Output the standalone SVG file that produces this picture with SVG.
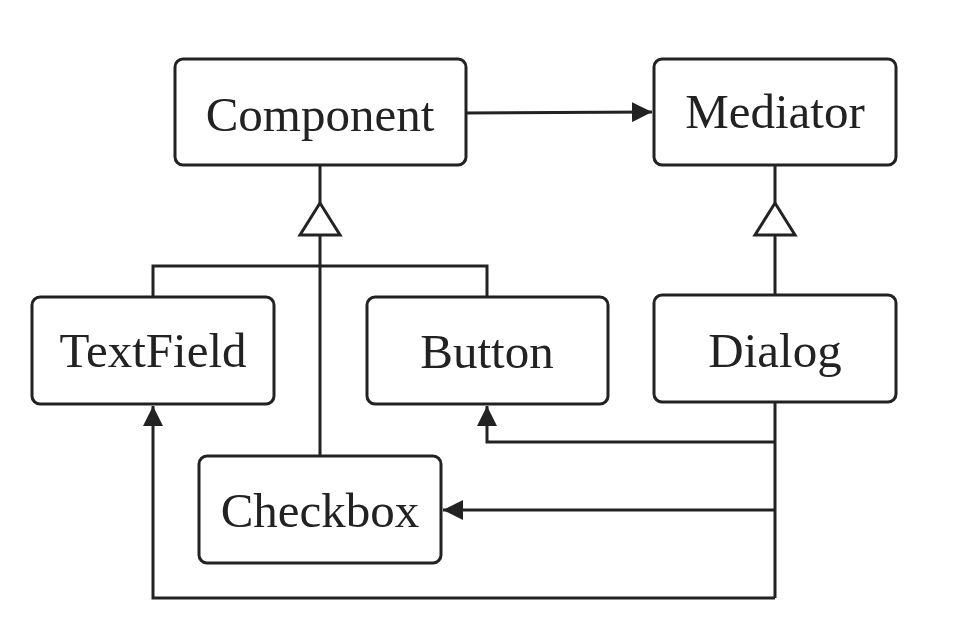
<svg xmlns="http://www.w3.org/2000/svg" width="969" height="643" viewBox="0 0 969 643">
<style>
.box{fill:#fff;stroke:#222;stroke-width:3}
.lbl{font-family:"Liberation Serif","Times New Roman",serif;font-size:49px;fill:#222;text-anchor:middle}
.ln{fill:none;stroke:#222;stroke-width:3}
.tri{fill:#fff;stroke:#222;stroke-width:3;stroke-linejoin:miter}
</style>
<defs>
<marker id="arr" viewBox="0 0 20 20" refX="20" refY="10" markerWidth="20" markerHeight="20" markerUnits="userSpaceOnUse" orient="auto">
<path d="M0,0 L20,10 L0,20 Z" fill="#222"/>
</marker>
</defs>
<rect width="969" height="643" fill="#fff"/>
<g id="connectors">
<path class="ln" d="M466,113 L652,112" marker-end="url(#arr)"/>
<path class="ln" d="M320,166 L320,203"/>
<path class="ln" d="M320,235 L320,456"/>
<path class="ln" d="M153,297 L153,266 L487,266 L487,297"/>
<polygon class="tri" points="320,203 300,235 340,235"/>
<path class="ln" d="M775,165 L775,203"/>
<path class="ln" d="M775,235 L775,295"/>
<polygon class="tri" points="775,203 755,235 795,235"/>
<path class="ln" d="M775,402 L775,598"/>
<path class="ln" d="M775,442 L487,442 L487,406" marker-end="url(#arr)"/>
<path class="ln" d="M775,510 L443,510" marker-end="url(#arr)"/>
<path class="ln" d="M775,598 L153,598 L153,406" marker-end="url(#arr)"/>
</g>
<g id="Component"><rect class="box" x="175" y="59" width="291" height="106" rx="8"/><text class="lbl" x="320" y="131">Component</text></g>
<g id="Mediator"><rect class="box" x="654" y="59" width="242" height="106" rx="8"/><text class="lbl" x="775" y="128">Mediator</text></g>
<g id="TextField"><rect class="box" x="32" y="297" width="242" height="107" rx="8"/><text class="lbl" x="153" y="367">TextField</text></g>
<g id="Button"><rect class="box" x="367" y="297" width="241" height="107" rx="8"/><text class="lbl" x="487" y="368">Button</text></g>
<g id="Dialog"><rect class="box" x="654" y="295" width="242" height="107" rx="8"/><text class="lbl" x="775" y="367">Dialog</text></g>
<g id="Checkbox"><rect class="box" x="199" y="456" width="242" height="107" rx="8"/><text class="lbl" x="320" y="527">Checkbox</text></g>
</svg>
